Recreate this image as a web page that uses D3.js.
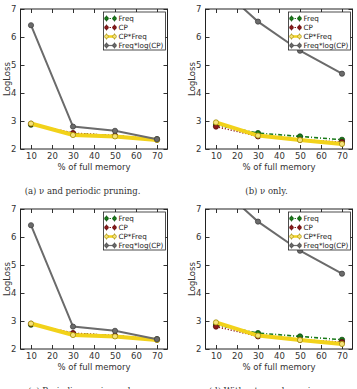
<!DOCTYPE html>
<html>
<head>
<meta charset="utf-8">
<script src="https://cdn.jsdelivr.net/npm/d3@7"></script>
<style>
body { margin: 0; background: #fff; }
svg { display: block; }
.tick text { font-family: "DejaVu Sans", sans-serif; font-size: 8.5px; fill: #333; }
</style>
</head>
<body>
<div id="chart"></div>
<script>
var w = 357, h = 389;
var pw = 147, ph = 140;

var memory = [10, 30, 50, 70];
var xTicks = [10, 20, 30, 40, 50, 60, 70];
var yTicks = [2, 3, 4, 5, 6, 7];
var names = ["Freq", "CP", "CP*Freq", "Freq*log(CP)"];
var captions = ["(a) \u03bd and periodic pruning.", "(b) \u03bd only.",
                "(c) Periodic pruning only.", "(d) Without \u03bd and pruning."];

// values, one array per series per panel
var freqA = [2.87, 2.55, 2.47, 2.35];
var cpA = [2.90, 2.57, 2.48, 2.34];
var cpFreqA = [2.91, 2.50, 2.45, 2.32];
var logA = [6.42, 2.80, 2.65, 2.35];

var freqB = [2.86, 2.57, 2.45, 2.33];
var cpB = [2.80, 2.45, 2.33, 2.25];
var cpFreqB = [2.95, 2.48, 2.32, 2.18];
var logB = [7.9, 6.55, 5.51, 4.69];

var freqC = [2.87, 2.55, 2.47, 2.35];
var cpC = [2.90, 2.57, 2.48, 2.34];
var cpFreqC = [2.91, 2.50, 2.45, 2.32];
var logC = [6.42, 2.80, 2.65, 2.35];

var freqD = [2.86, 2.57, 2.45, 2.33];
var cpD = [2.80, 2.45, 2.33, 2.25];
var cpFreqD = [2.95, 2.48, 2.32, 2.18];
var logD = [7.9, 6.55, 5.51, 4.69];

var panels = [
    { left: 20.5, top: 9, series: [freqA, cpA, cpFreqA, logA] },
    { left: 205.5, top: 9, series: [freqB, cpB, cpFreqB, logB] },
    { left: 20.5, top: 209, series: [freqC, cpC, cpFreqC, logC] },
    { left: 205.5, top: 209, series: [freqD, cpD, cpFreqD, logD] }
];

// style per series: Freq, CP, CP*Freq, Freq*log(CP)
var styles = [
    { stroke: "#1a7a1a", width: 1.6, dash: "4,2,1,2", fill: "#1a7a1a", edge: "#0d4d0d", r: 2.6 },
    { stroke: "#8b1a1a", width: 1.4, dash: "1.2,1.8", fill: "#8b1a1a", edge: "#5a0d0d", r: 2.6 },
    { stroke: "#f2d21a", width: 4, dash: null, fill: "#f6e27a", edge: "#a08a00", r: 2.6 },
    { stroke: "#6b6b6b", width: 2, dash: null, fill: "#6b6b6b", edge: "#444", r: 2.6 }
];

var svg = d3.select("#chart")
    .append("svg")
    .attr("width", w)
    .attr("height", h);

var xScale = d3.scaleLinear().domain([5, 75]).range([0, pw]);
var yScale = d3.scaleLinear().domain([2, 7]).range([ph, 0]);
var fmt = d3.format("d");

panels.forEach(function (p, pi) {
    var g = svg.append("g").attr("transform", "translate(" + p.left + "," + p.top + ")");

    var clipId = "clip" + pi;
    g.append("clipPath").attr("id", clipId)
        .append("rect").attr("width", pw).attr("height", ph);

    // axes, ticks pointing inwards on all four sides
    g.append("g")
        .attr("transform", "translate(0," + ph + ")")
        .call(d3.axisBottom(xScale).tickValues(xTicks).tickSizeInner(-4).tickSizeOuter(0).tickPadding(4).tickFormat(fmt))
        .call(function (a) { a.select(".domain").remove(); a.selectAll("line").attr("stroke", "#333"); });
    g.append("g")
        .call(d3.axisTop(xScale).tickValues(xTicks).tickSizeInner(-4).tickSizeOuter(0).tickFormat(""))
        .call(function (a) { a.select(".domain").remove(); a.selectAll("line").attr("stroke", "#333"); });
    g.append("g")
        .call(d3.axisLeft(yScale).tickValues(yTicks).tickSizeInner(-4).tickSizeOuter(0).tickPadding(4).tickFormat(fmt))
        .call(function (a) { a.select(".domain").remove(); a.selectAll("line").attr("stroke", "#333"); });
    g.append("g")
        .attr("transform", "translate(" + pw + ",0)")
        .call(d3.axisRight(yScale).tickValues(yTicks).tickSizeInner(-4).tickSizeOuter(0).tickFormat(""))
        .call(function (a) { a.select(".domain").remove(); a.selectAll("line").attr("stroke", "#333"); });

    var plot = g.append("g").attr("clip-path", "url(#" + clipId + ")");
    var line = d3.line()
        .x(function (d, i) { return xScale(memory[i]); })
        .y(function (d) { return yScale(d); });

    p.series.forEach(function (vals, si) {
        var s = styles[si];
        plot.append("path")
            .datum(vals)
            .attr("fill", "none")
            .attr("stroke", s.stroke)
            .attr("stroke-width", s.width)
            .attr("stroke-dasharray", s.dash)
            .attr("d", line);
        plot.selectAll(".pt" + si)
            .data(vals)
            .enter()
            .append("circle")
            .attr("cx", function (d, i) { return xScale(memory[i]); })
            .attr("cy", function (d) { return yScale(d); })
            .attr("r", s.r)
            .attr("fill", s.fill)
            .attr("stroke", s.edge)
            .attr("stroke-width", 0.8);
    });

    // frame
    g.append("rect")
        .attr("width", pw).attr("height", ph)
        .attr("fill", "none").attr("stroke", "#222").attr("stroke-width", 1);

    // legend
    var lg = g.append("g").attr("transform", "translate(" + (pw - 64) + ",3)");
    lg.append("rect")
        .attr("width", 62).attr("height", 38)
        .attr("fill", "#fff").attr("stroke", "#222").attr("stroke-width", 0.8);
    names.forEach(function (n, i) {
        var s = styles[i];
        var yy = 6.5 + i * 9;
        lg.append("line")
            .attr("x1", 3).attr("x2", 11).attr("y1", yy).attr("y2", yy)
            .attr("stroke", s.stroke)
            .attr("stroke-width", i == 2 ? 2.5 : 1.2)
            .attr("stroke-dasharray", i < 2 ? "1.5,1.5" : null);
        [3, 11].forEach(function (mx) {
            lg.append("line")
                .attr("x1", mx).attr("x2", mx).attr("y1", yy - 3).attr("y2", yy + 3)
                .attr("stroke", s.edge).attr("stroke-width", 0.8);
            lg.append("circle")
                .attr("cx", mx).attr("cy", yy).attr("r", 1.9)
                .attr("fill", s.fill).attr("stroke", s.edge).attr("stroke-width", 0.6);
        });
        lg.append("text")
            .attr("x", 15).attr("y", yy + 2.6)
            .attr("font-family", "DejaVu Sans, sans-serif")
            .attr("font-size", "7.2px")
            .attr("fill", "#222")
            .text(n);
    });

    // axis titles
    g.append("text")
        .attr("x", pw / 2).attr("y", ph + 21)
        .attr("text-anchor", "middle")
        .attr("font-family", "DejaVu Sans, sans-serif")
        .attr("font-size", "8.5px")
        .attr("fill", "#333")
        .text("% of full memory");
    g.append("text")
        .attr("transform", "translate(-11," + (ph / 2) + ") rotate(-90)")
        .attr("text-anchor", "middle")
        .attr("font-family", "DejaVu Sans, sans-serif")
        .attr("font-size", "8.5px")
        .attr("fill", "#333")
        .text("LogLoss");

    // caption
    g.append("text")
        .attr("x", pi % 2 == 0 ? 62 : 61)
        .attr("y", ph + 44.5)
        .attr("text-anchor", "middle")
        .attr("font-family", "DejaVu Serif, serif")
        .attr("font-size", "8.5px")
        .attr("fill", "#333")
        .text(captions[pi]);
});
</script>
</body>
</html>
